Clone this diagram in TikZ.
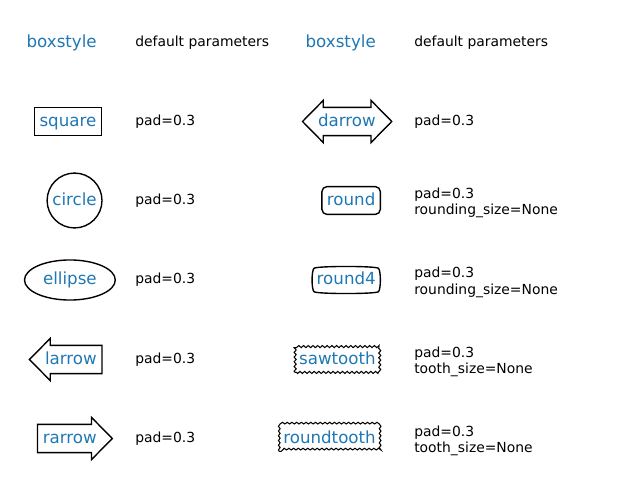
\documentclass[tikz,border=0pt]{standalone}
\usepackage{fontspec}
\setmainfont{DejaVu Sans}
\usepackage{tikz}
\usetikzlibrary{calc,decorations.pathmorphing}
\definecolor{mplblue}{HTML}{1F77B4}

\tikzset{
  lbl/.style={anchor=east, text=mplblue, font=\fontsize{12}{14}\selectfont,
    inner sep=3.6pt, text height=10pt, text depth=2.8pt},
  desc/.style={anchor=west, inner sep=0pt, align=left, font=\fontsize{10}{12}\selectfont},
  box/.style={draw=black, line width=1pt},
  teeth/.style={draw=black, line width=0.75pt, decorate},
}

\begin{document}
\begin{tikzpicture}[x=0.72pt, y=0.72pt]
    \useasboundingbox (0,0) rectangle (628,499);

    % Headers
    \node[lbl] (hl) at (102,456) {boxstyle};
    \node[desc] (hdl) at (135,456.5) {default parameters};
    \node[lbl] (hr) at (381,456) {boxstyle};
    \node[desc] (hdr) at (414,456.5) {default parameters};

    % Square
    \node[lbl, box] (sq) at (102,377.5) {square};
    \node[desc] (dsq) at (135,377.5) {pad=0.3};

    % Circle
    \node[lbl] (ci) at (102,298.5) {circle};
    \draw[box] let \p1=($(ci.east)-(ci.west)$) in (ci.center) circle[radius=0.5*\x1];
    \node[desc] (dci) at (135,298.5) {pad=0.3};

    % Ellipse
    \node[lbl] (el) at (102,219) {ellipse};
    \draw[box] let \p1=($(el.north east)-(el.south west)$) in
        (el.center) ellipse[x radius=0.7071*\x1, y radius=0.7071*\y1];
    \node[desc] (del) at (135,219) {pad=0.3};

    % Left arrow
    \node[lbl] (la) at (102,139.5) {larrow};
    \draw[box] ($(la.south west)+(7.55pt,0)$) -- (la.south east) -- (la.north east)
        -- ($(la.north west)+(7.55pt,0)$) -- ($(la.north west)+(7.55pt,4.98pt)$)
        -- ($(la.west)+(-7.39pt,0)$) -- ($(la.south west)+(7.55pt,-4.98pt)$) -- cycle;
    \node[desc] (dla) at (135,139.5) {pad=0.3};

    % Right arrow
    \node[lbl] (ra) at (102,60.5) {rarrow};
    \draw[box] (ra.south west) -- ($(ra.south east)+(-7.55pt,0)$)
        -- ($(ra.south east)+(-7.55pt,-4.98pt)$) -- ($(ra.east)+(7.39pt,0)$)
        -- ($(ra.north east)+(-7.55pt,4.98pt)$) -- ($(ra.north east)+(-7.55pt,0)$)
        -- (ra.north west) -- cycle;
    \node[desc] (dra) at (135,60.5) {pad=0.3};

    % Double arrow
    \node[lbl] (da) at (381,377.5) {darrow};
    \draw[box] ($(da.south west)+(7.55pt,0)$) -- ($(da.south east)+(-7.2pt,0)$)
        -- ($(da.south east)+(-7.2pt,-4.98pt)$) -- ($(da.east)+(7.74pt,0)$)
        -- ($(da.north east)+(-7.2pt,4.98pt)$) -- ($(da.north east)+(-7.2pt,0)$)
        -- ($(da.north west)+(7.55pt,0)$) -- ($(da.north west)+(7.55pt,4.98pt)$)
        -- ($(da.west)+(-7.39pt,0)$) -- ($(da.south west)+(7.55pt,-4.98pt)$) -- cycle;
    \node[desc] (dda) at (414,377.5) {pad=0.3};

    % Round
    \node[lbl, box, rounded corners=3.6pt] (ro) at (381,298.5) {round};
    \node[desc] (dro) at (414,296) {pad=0.3\\rounding\_size=None};

    % Round4
    \node[lbl] (r4) at (381,219) {round4};
    \draw[box] ($(r4.south west)+(1.8pt,1.8pt)$)
        .. controls ($(r4.south west)+(3.6pt,0)$) and ($(r4.south east)+(-3.6pt,0)$) .. ($(r4.south east)+(-1.8pt,1.8pt)$)
        .. controls ($(r4.south east)+(0,3.6pt)$) and ($(r4.north east)+(0,-3.6pt)$) .. ($(r4.north east)+(-1.8pt,-1.8pt)$)
        .. controls ($(r4.north east)+(-3.6pt,0)$) and ($(r4.north west)+(3.6pt,0)$) .. ($(r4.north west)+(1.8pt,-1.8pt)$)
        .. controls ($(r4.north west)+(0,-3.6pt)$) and ($(r4.south west)+(0,3.6pt)$) .. ($(r4.south west)+(1.8pt,1.8pt)$) -- cycle;
    \node[desc] (dr4) at (414,216.5) {pad=0.3\\rounding\_size=None};

    % Sawtooth
    \node[lbl] (sw) at (381,139.5) {sawtooth};
    \draw[teeth, decoration={zigzag, segment length=3.4pt, amplitude=0.75pt}]
        ($(sw.south west)+(0.9pt,0.9pt)$) rectangle ($(sw.north east)+(-0.9pt,-0.9pt)$);
    \node[desc] (dsw) at (414,137) {pad=0.3\\tooth\_size=None};

    % Roundtooth
    \node[lbl] (rt) at (381,60.5) {roundtooth};
    \draw[teeth, decoration={snake, segment length=3.4pt, amplitude=0.6pt}]
        ($(rt.south west)+(0.9pt,0.9pt)$) rectangle ($(rt.north east)+(-0.9pt,-0.9pt)$);
    \node[desc] (drt) at (414,58) {pad=0.3\\tooth\_size=None};
\end{tikzpicture}
\end{document}
